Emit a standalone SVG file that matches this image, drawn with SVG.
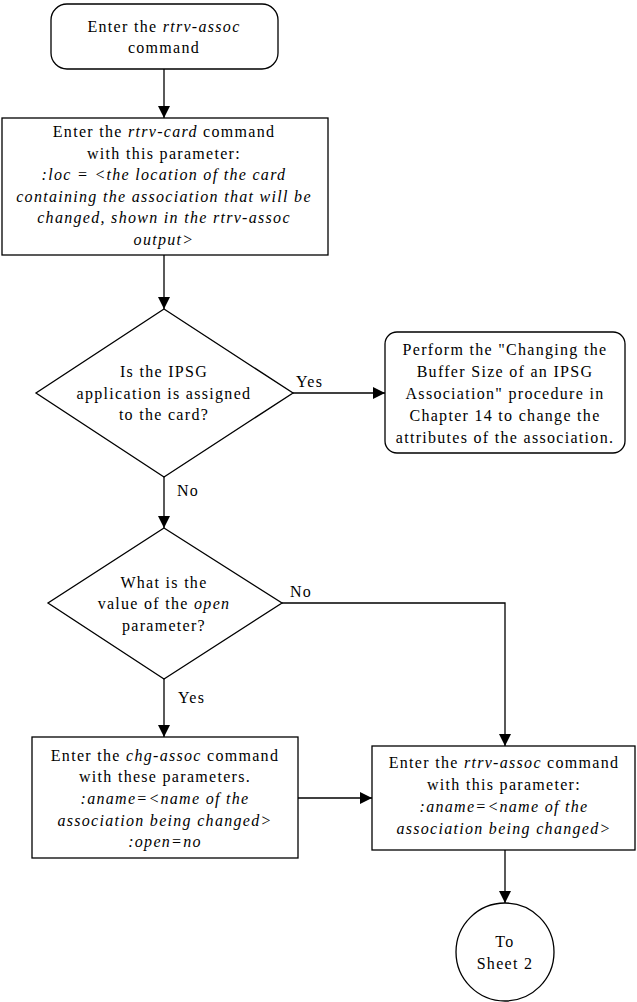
<svg xmlns="http://www.w3.org/2000/svg" width="637" height="1002" viewBox="0 0 637 1002">
<style>
.s{fill:#fff;stroke:#000;stroke-width:1.3}
.c{fill:none;stroke:#000;stroke-width:1.3;marker-end:url(#ah)}
text{font-family:"Liberation Serif","Times New Roman",serif;font-size:16px;letter-spacing:1.3px;fill:#000}
.m{text-anchor:middle}
.i{font-style:italic}
</style>
<defs>
<marker id="ah" markerWidth="12" markerHeight="12" refX="12" refY="6" orient="auto" markerUnits="userSpaceOnUse">
<path d="M0,0 L12,6 L0,12 Z" fill="#000"/>
</marker>
</defs>
<rect width="637" height="1002" fill="#fff"/>
<g id="connectors">
<path class="c" d="M164,69 V118"/>
<path class="c" d="M164,255 V309"/>
<path class="c" d="M293,393 H385"/>
<path class="c" d="M164,477 V528"/>
<path class="c" d="M282,603 H505 V746"/>
<path class="c" d="M164,679 V737"/>
<path class="c" d="M298,798 H372"/>
<path class="c" d="M505,850 V903"/>
<text x="296" y="387">Yes</text>
<text x="177" y="496">No</text>
<text x="290" y="597">No</text>
<text x="178" y="703">Yes</text>
</g>
<g id="start">
<rect class="s" x="51" y="4" width="227" height="65" rx="16"/>
<text class="m" x="164" y="32">Enter the <tspan class="i">rtrv-assoc</tspan></text>
<text class="m" x="164" y="53">command</text>
</g>
<g id="rtrvcard">
<rect class="s" x="2" y="118" width="326" height="137"/>
<text class="m" x="164" y="137">Enter the <tspan class="i">rtrv-card</tspan> command</text>
<text class="m" x="164" y="158.5">with this parameter:</text>
<text class="m i" x="164" y="180">:loc = &lt;the location of the card</text>
<text class="m i" x="164" y="201.5">containing the association that will be</text>
<text class="m i" x="164" y="223">changed, shown in the rtrv-assoc</text>
<text class="m i" x="164" y="244.5">output&gt;</text>
</g>
<g id="ipsgq">
<polygon class="s" points="164,309 293,393 164,477 36,393"/>
<text class="m" x="164" y="377">Is the IPSG</text>
<text class="m" x="164" y="399">application is assigned</text>
<text class="m" x="164" y="420">to the card?</text>
</g>
<g id="perform">
<rect class="s" x="385" y="332" width="240" height="121" rx="12"/>
<text class="m" x="505" y="355">Perform the "Changing the</text>
<text class="m" x="505" y="377">Buffer Size of an IPSG</text>
<text class="m" x="505" y="399">Association" procedure in</text>
<text class="m" x="505" y="421">Chapter 14 to change the</text>
<text class="m" x="505" y="443">attributes of the association.</text>
</g>
<g id="openq">
<polygon class="s" points="164,528 282,603 164,679 48,603"/>
<text class="m" x="164" y="588">What is the</text>
<text class="m" x="164" y="609">value of the <tspan class="i">open</tspan></text>
<text class="m" x="164" y="631">parameter?</text>
</g>
<g id="chgassoc">
<rect class="s" x="32" y="737" width="266" height="121"/>
<text class="m" x="165" y="761">Enter the <tspan class="i">chg-assoc</tspan> command</text>
<text class="m" x="165" y="782">with these parameters.</text>
<text class="m i" x="165" y="804">:aname=&lt;name of the</text>
<text class="m i" x="165" y="826">association being changed&gt;</text>
<text class="m i" x="165" y="847">:open=no</text>
</g>
<g id="rtrvassoc">
<rect class="s" x="372" y="746" width="263" height="104"/>
<text class="m" x="504" y="768">Enter the <tspan class="i">rtrv-assoc</tspan> command</text>
<text class="m" x="504" y="790">with this parameter:</text>
<text class="m i" x="504" y="812">:aname=&lt;name of the</text>
<text class="m i" x="504" y="834">association being changed&gt;</text>
</g>
<g id="sheet2">
<circle class="s" cx="505" cy="952" r="49"/>
<text class="m" x="505" y="947">To</text>
<text class="m" x="505" y="969">Sheet 2</text>
</g>
</svg>
